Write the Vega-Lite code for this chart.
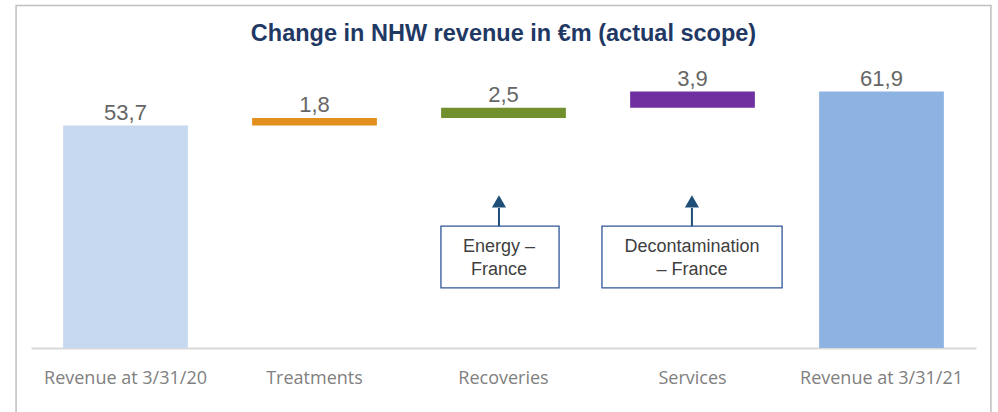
{
  "$schema": "https://vega.github.io/schema/vega-lite/v6.json",
  "width": 945,
  "height": 290,
  "autosize": {"type": "none"},
  "padding": {"left": 31, "top": 58, "right": 22, "bottom": 64},
  "background": "white",
  "config": {"view": {"stroke": null}},
  "title": {
    "text": "Change in NHW revenue in €m (actual scope)",
    "font": "Liberation Sans",
    "fontSize": 23.5,
    "fontWeight": "bold",
    "color": "#1f3864",
    "anchor": "middle",
    "offset": -41
  },
  "datasets": {
    "bars": [
      {"category": "Revenue at 3/31/20", "start": 0, "end": 53.7, "label": "53,7"},
      {"category": "Treatments", "start": 53.7, "end": 55.5, "label": "1,8"},
      {"category": "Recoveries", "start": 55.5, "end": 58.0, "label": "2,5"},
      {"category": "Services", "start": 58.0, "end": 61.9, "label": "3,9"},
      {"category": "Revenue at 3/31/21", "start": 0, "end": 61.9, "label": "61,9"}
    ],
    "notes": [
      {"note": "Energy –|France", "x0": 2.169, "x1": 2.794, "xc": 2.476, "y0": 14.5, "y1": 29.4, "ytext": 24.4, "yarrow": 33.8, "yhead": 35.4},
      {"note": "Decontamination|– France", "x0": 3.021, "x1": 3.974, "xc": 3.497, "y0": 14.5, "y1": 29.4, "ytext": 24.4, "yarrow": 33.8, "yhead": 35.4}
    ]
  },
  "layer": [
    {
      "data": {"name": "bars"},
      "layer": [
        {
          "mark": {"type": "bar"},
          "encoding": {
            "x": {
              "field": "category",
              "type": "nominal",
              "sort": null,
              "scale": {"paddingInner": 0.34, "paddingOuter": 0.17},
              "axis": {
                "title": null,
                "labelAngle": 0,
                "ticks": false,
                "domainColor": "#d9d9d9",
                "domainWidth": 2,
                "labelFont": "Open Sans",
                "labelFontSize": 18,
                "labelColor": "#808080",
                "labelPadding": 21
              }
            },
            "y": {"field": "start", "type": "quantitative", "scale": {"domain": [0, 70], "nice": false}, "axis": null},
            "y2": {"field": "end"},
            "color": {
              "field": "category",
              "type": "nominal",
              "scale": {
                "domain": ["Revenue at 3/31/20", "Treatments", "Recoveries", "Services", "Revenue at 3/31/21"],
                "range": ["#c6d9f0", "#e38f1d", "#718f2c", "#7030a0", "#8db3e2"]
              },
              "legend": null
            }
          }
        },
        {
          "mark": {"type": "text", "baseline": "bottom", "dy": -1, "font": "Liberation Sans", "fontSize": 22, "color": "#666666"},
          "encoding": {
            "x": {"field": "category", "type": "nominal", "sort": null},
            "y": {"field": "end", "type": "quantitative"},
            "text": {"field": "label"}
          }
        }
      ]
    },
    {
      "data": {"name": "notes"},
      "layer": [
        {
          "mark": {"type": "rect", "fill": "white", "stroke": "#2f5597", "strokeWidth": 1.3},
          "encoding": {
            "x": {"field": "x0", "type": "quantitative", "scale": {"domain": [0, 5], "nice": false, "zero": false}, "axis": null},
            "x2": {"field": "x1"},
            "y": {"field": "y0", "type": "quantitative"},
            "y2": {"field": "y1"}
          }
        },
        {
          "mark": {"type": "rule", "color": "#1f4e79", "strokeWidth": 2},
          "encoding": {
            "x": {"field": "xc", "type": "quantitative"},
            "y": {"field": "y1", "type": "quantitative"},
            "y2": {"field": "yarrow"}
          }
        },
        {
          "mark": {"type": "point", "shape": "triangle-up", "filled": true, "size": 200, "color": "#1f4e79", "opacity": 1},
          "encoding": {
            "x": {"field": "xc", "type": "quantitative"},
            "y": {"field": "yhead", "type": "quantitative"}
          }
        },
        {
          "mark": {"type": "text", "lineBreak": "|", "font": "Liberation Sans", "fontSize": 18, "color": "#404040", "lineHeight": 23, "baseline": "middle"},
          "encoding": {
            "x": {"field": "xc", "type": "quantitative"},
            "y": {"field": "ytext", "type": "quantitative"},
            "text": {"field": "note"}
          }
        },
        {
          "data": {"values": [{"frame": "border"}]},
          "mark": {"type": "rect", "fill": null, "stroke": "#bfbfbf", "strokeWidth": 1.5},
          "encoding": {
            "x": {"datum": -0.079, "type": "quantitative"},
            "x2": {"datum": 5.079},
            "y": {"datum": 82.7, "type": "quantitative"},
            "y2": {"datum": -20}
          }
        }
      ]
    }
  ],
  "resolve": {"scale": {"x": "independent"}}
}
